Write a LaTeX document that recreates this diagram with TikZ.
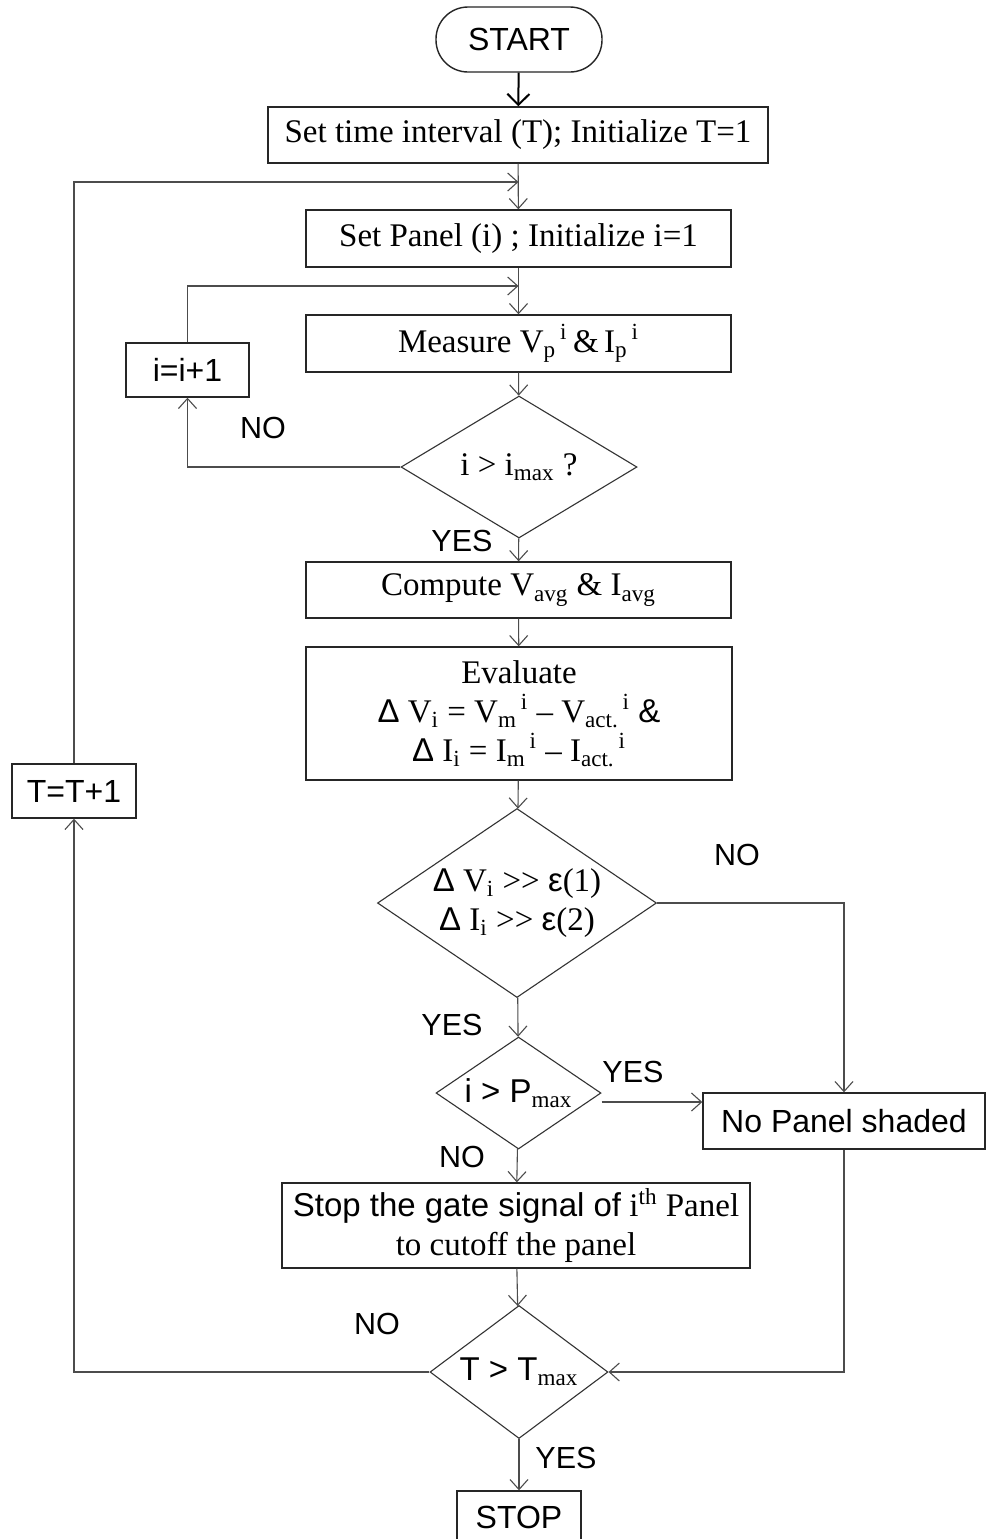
\documentclass[tikz,border=0pt]{standalone}
\usepackage{fontspec}
\setmainfont{Liberation Serif}
\newfontfamily\arial{Liberation Sans}
\usetikzlibrary{arrows.meta,shapes.geometric,calc}
\newcommand\tms{\fontsize{16.5}{19.5}\selectfont}
\newcommand\arb{\arial\fontsize{16}{19}\selectfont}
\newcommand\ars{\arial\fontsize{15.25}{18}\selectfont}
\begin{document}
\begin{tikzpicture}[x=0.5pt,y=-0.5pt,
  box/.style={draw=black!85, line width=0.7pt, inner sep=0pt, align=center, font=\tms},
  dia/.style={draw=black!80, line width=0.55pt, diamond, inner sep=0pt, align=center, font=\tms},
  conn/.style={draw=black!70, line width=0.55pt},
  arr/.style={conn, -{Straight Barb[length=5pt,width=9pt]}},
  lbl/.style={inner sep=0pt, font=\ars}]
\useasboundingbox (0,0) rectangle (986,1539);
\fill[white] (0,0) rectangle (986,1539);

% nodes
\node[box, rounded corners=16pt, minimum width=83pt, minimum height=32.5pt, font=\arb] (start) at (519,39.5) {START};
\node[box, minimum width=250pt, minimum height=28pt] (settime) at (518,135) {Set time interval (T); Initialize T=1};
\node[box, minimum width=212.5pt, minimum height=28.5pt] (setpanel) at (518.5,238.5) {Set Panel (i) ; Initialize i=1};
\node[box, minimum width=212.5pt, minimum height=28.5pt] (measure) at (518.5,343.5) {Measure V\textsubscript{p}\textsuperscript{\,i}\,\&\,I\textsubscript{p}\textsuperscript{\,i}};
\node[box, minimum width=61.5pt, minimum height=27pt, font=\arb] (iinc) at (187.5,370) {i=i+1};
\node[dia, shape aspect=1.66, minimum width=118pt, minimum height=71pt] (d1) at (519,467) {i > i\textsubscript{max} ?};
\node[box, minimum width=212.5pt, minimum height=28pt] (compute) at (518.5,590) {Compute V\textsubscript{avg} \& I\textsubscript{avg}};
\node[box, minimum width=213pt, minimum height=66.5pt] (evaluate) at (519,713.5) {Evaluate\\{\arial Δ} V\textsubscript{i} = V\textsubscript{m}\textsuperscript{\,i} – V\textsubscript{act.}\textsuperscript{\,i} {\arial\&}\\{\arial Δ} I\textsubscript{i} = I\textsubscript{m}\textsuperscript{\,i} – I\textsubscript{act.}\textsuperscript{\,i}};
\node[dia, shape aspect=1.5, minimum width=139.5pt, minimum height=94.5pt] (d2) at (517,903) {{\arial Δ} V\textsubscript{i} >{}> {\arial ε}(1)\\{\arial Δ} I\textsubscript{i} >{}> {\arial ε}(2)};
\node[dia, shape aspect=1.47, minimum width=82.5pt, minimum height=56pt] (d3) at (518.5,1093) {{\arial i > P}\textsubscript{max}};
\node[box, minimum width=141pt, minimum height=28pt, font=\arb] (nopanel) at (844,1121) {No Panel shaded};
\node[box, minimum width=234pt, minimum height=42.5pt] (stopg) at (516,1225.5) {{\arial Stop the gate signal of} i\textsuperscript{th} Panel\\to cutoff the panel};
\node[dia, shape aspect=1.34, minimum width=89pt, minimum height=66.5pt] (d4) at (519,1372) {{\arial T > T}\textsubscript{max}};
\node[box, minimum width=62pt, minimum height=26pt, font=\arb] (stop) at (519,1517) {STOP};
\node[box, minimum width=62pt, minimum height=27pt, font=\arb] (tinc) at (74,791) {T=T+1};

% junction coordinates
\coordinate (jT) at (518.5,182);
\coordinate (jI) at (518.5,286);
\coordinate (yP) at (0,1102);

% connectors
\draw[conn, line width=1pt, black, -{Straight Barb[length=5.5pt,width=11pt]}] (start) -- (settime);
\draw[arr] (settime) -- (setpanel);
\draw[arr] (setpanel) -- (measure);
\draw[arr] (measure) -- (d1);
\draw[arr] (d1) -- (compute);
\draw[arr] (compute) -- (evaluate);
\draw[arr] (evaluate) -- (d2);
\draw[arr] (d2) -- (d3);
\draw[arr] (d3) -- (stopg);
\draw[arr] (stopg) -- (d4);
\draw[arr] (d4) -- (stop);
\draw[arr] (d1.west) -| (iinc.south);
\draw[arr] (iinc.north) |- (jI);
\draw[arr] (d4.west) -| (tinc.south);
\draw[arr] (tinc.north) |- (jT);
\draw[arr] (d2.east) -| (nopanel.north);
\draw[arr] (d3.east |- yP) -- (nopanel.west |- yP);
\draw[arr] (nopanel.south) |- (d4.east);

% labels
\node[lbl] (l1) at (263,428) {NO};
\node[lbl] (l2) at (462,541) {YES};
\node[lbl] (l3) at (737,855) {NO};
\node[lbl] (l4) at (452,1025) {YES};
\node[lbl] (l5) at (633,1072) {YES};
\node[lbl] (l6) at (462,1157) {NO};
\node[lbl] (l7) at (377,1324) {NO};
\node[lbl] (l8) at (566,1458) {YES};
\end{tikzpicture}
\end{document}
